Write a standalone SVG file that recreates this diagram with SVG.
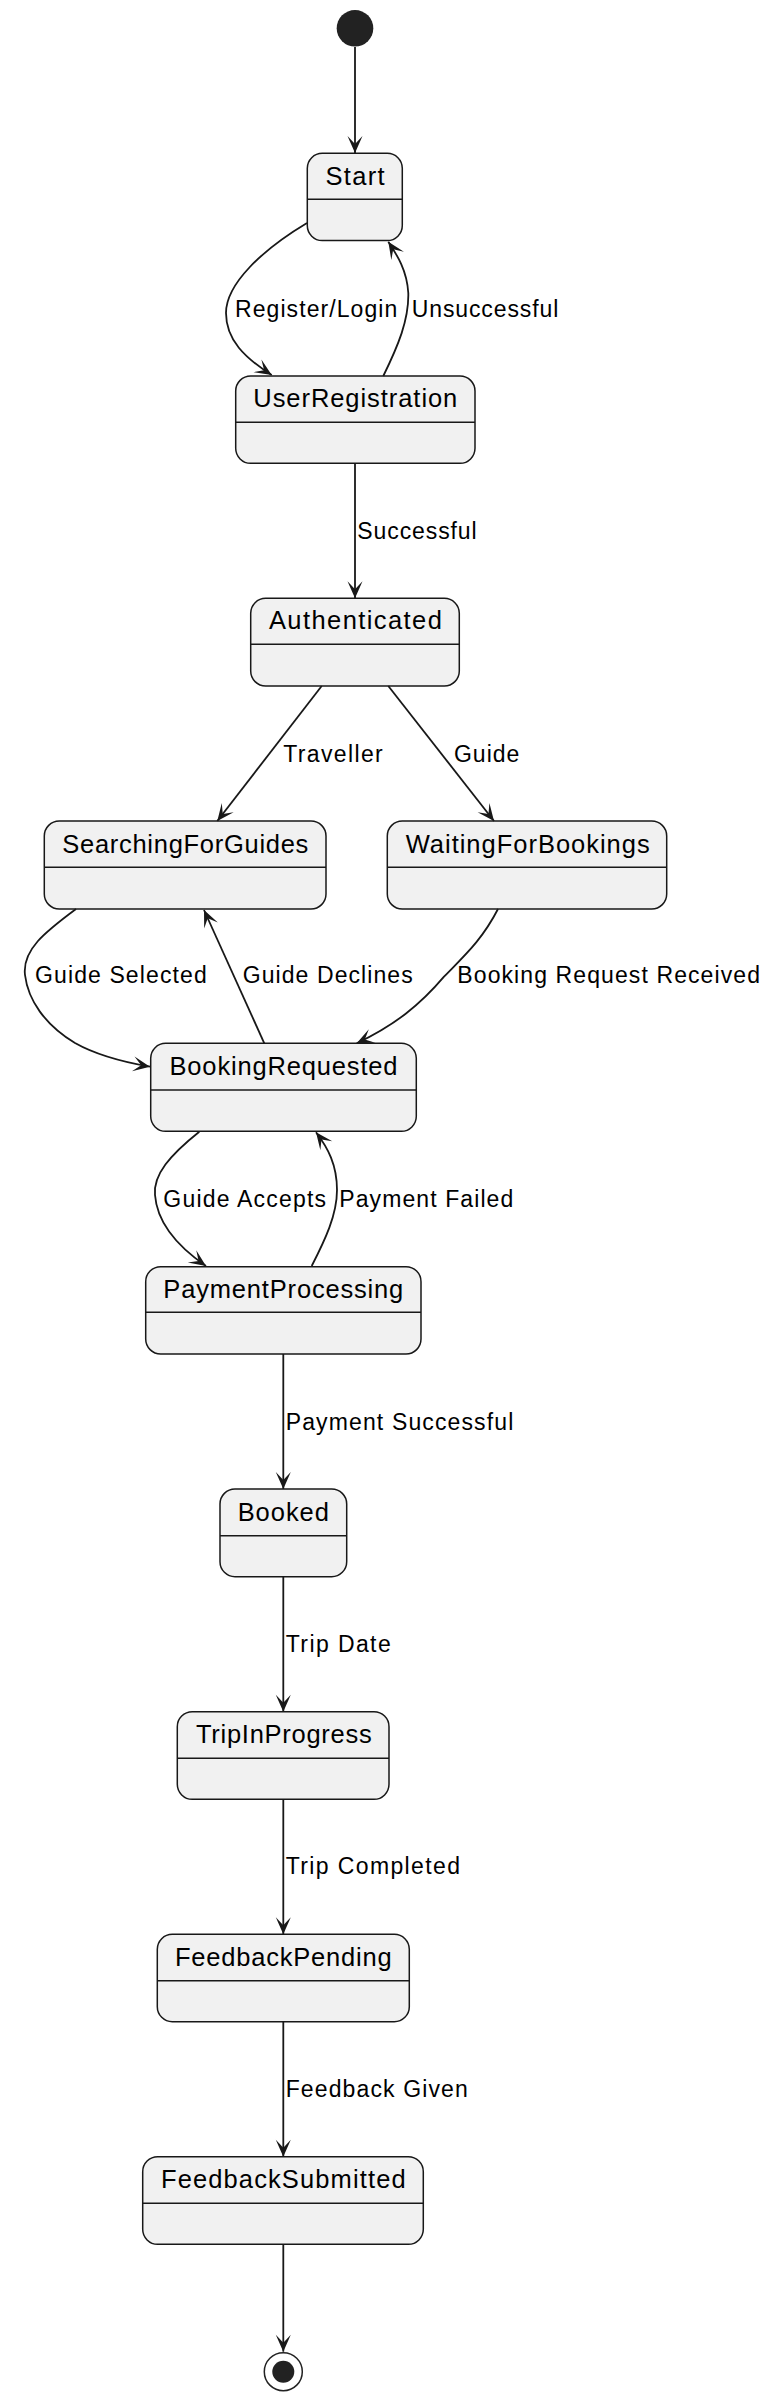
<svg xmlns="http://www.w3.org/2000/svg" width="774" height="2400" viewBox="0 0 774 2400">
<style>
.st rect.b{fill:#F1F1F1;stroke:#181818;stroke-width:1.5}
.st line{stroke:#181818;stroke-width:1.5}
.st text{font-family:"Liberation Sans",Arial,sans-serif;font-size:25.5px;fill:#000;text-anchor:middle}
.lbl{font-family:"Liberation Sans",Arial,sans-serif;font-size:23px;fill:#000}
#connectors path{fill:none;stroke:#181818;stroke-width:1.8;marker-end:url(#ah)}
</style>
<defs>
<marker id="ah" viewBox="-18 -9 20 18" refX="0" refY="0" markerWidth="20" markerHeight="18" orient="auto" markerUnits="userSpaceOnUse">
<path d="M0,0 L-17,-7.5 L-9,0 L-17,7.5 Z" fill="#181818"/>
</marker>
</defs>
<rect width="774" height="2400" fill="#FFFFFF"/>
<g id="initial"><circle cx="355" cy="28.3" r="18.3" fill="#222222"/></g>
<g id="final"><circle cx="283.3" cy="2371.7" r="19" fill="none" stroke="#222222" stroke-width="1.5"/><circle cx="283.3" cy="2371.7" r="11" fill="#222222"/></g>

<g id="Start" class="st"><rect class="b" x="307.3" y="153.3" width="95" height="87.3" rx="15"/><line x1="307.3" y1="199.3" x2="402.3" y2="199.3"/><text x="355" y="185" textLength="59" lengthAdjust="spacing">Start</text></g>
<g id="UserRegistration" class="st"><rect class="b" x="235.7" y="376" width="239.3" height="87.3" rx="15"/><line x1="235.7" y1="422.3" x2="475" y2="422.3"/><text x="355.3" y="407.3" textLength="204" lengthAdjust="spacing">UserRegistration</text></g>
<g id="Authenticated" class="st"><rect class="b" x="250.7" y="598.3" width="208.6" height="87.7" rx="15"/><line x1="250.7" y1="644.3" x2="459.3" y2="644.3"/><text x="355.4" y="629" textLength="173" lengthAdjust="spacing">Authenticated</text></g>
<g id="SearchingForGuides" class="st"><rect class="b" x="44.3" y="821" width="281.7" height="88" rx="15"/><line x1="44.3" y1="867.3" x2="326" y2="867.3"/><text x="185.3" y="852.7" textLength="246" lengthAdjust="spacing">SearchingForGuides</text></g>
<g id="WaitingForBookings" class="st"><rect class="b" x="387.3" y="821" width="279.4" height="88" rx="15"/><line x1="387.3" y1="867.3" x2="666.7" y2="867.3"/><text x="527.7" y="852.7" textLength="244" lengthAdjust="spacing">WaitingForBookings</text></g>
<g id="BookingRequested" class="st"><rect class="b" x="150.7" y="1043.3" width="265.6" height="88" rx="15"/><line x1="150.7" y1="1090" x2="416.3" y2="1090"/><text x="283.5" y="1075" textLength="228" lengthAdjust="spacing">BookingRequested</text></g>
<g id="PaymentProcessing" class="st"><rect class="b" x="145.7" y="1266.7" width="275.3" height="87.3" rx="15"/><line x1="145.7" y1="1312.3" x2="421" y2="1312.3"/><text x="283.3" y="1298.3" textLength="240" lengthAdjust="spacing">PaymentProcessing</text></g>
<g id="Booked" class="st"><rect class="b" x="220" y="1489" width="126.7" height="87.7" rx="15"/><line x1="220" y1="1535.7" x2="346.7" y2="1535.7"/><text x="283.3" y="1521" textLength="91.3" lengthAdjust="spacing">Booked</text></g>
<g id="TripInProgress" class="st"><rect class="b" x="177.3" y="1711.7" width="211.7" height="87.6" rx="15"/><line x1="177.3" y1="1758.3" x2="389" y2="1758.3"/><text x="283.8" y="1743.3" textLength="175.7" lengthAdjust="spacing">TripInProgress</text></g>
<g id="FeedbackPending" class="st"><rect class="b" x="157.3" y="1934.3" width="252" height="87.4" rx="15"/><line x1="157.3" y1="1980.7" x2="409.3" y2="1980.7"/><text x="283.3" y="1966" textLength="216.7" lengthAdjust="spacing">FeedbackPending</text></g>
<g id="FeedbackSubmitted" class="st"><rect class="b" x="142.7" y="2156.7" width="280.6" height="87.6" rx="15"/><line x1="142.7" y1="2203.3" x2="423.3" y2="2203.3"/><text x="283.3" y="2188.3" textLength="244.7" lengthAdjust="spacing">FeedbackSubmitted</text></g>

<g id="connectors">
<path d="M355,47 L355,153"/>
<path d="M307,223 C262,250 226,284 226,313 C226,340 245,358 271.7,375"/>
<path d="M383.3,376 C398,346 409,320 408.3,293 C407,270 397,255 388.3,241.7"/>
<path d="M355,463.3 L355,598.3"/>
<path d="M321.7,686 L217.3,821"/>
<path d="M388.3,686 L494,821"/>
<path d="M76,909 C45,932 22,950 25,975 C28,1000 45,1025 75,1043 C98,1056 123,1062 150,1066.7"/>
<path d="M264.3,1043.3 L204,910"/>
<path d="M498,909 C482,940 465,955 444,976.7 C420,1005 395,1025 356.7,1043.3"/>
<path d="M199.3,1131.7 C170,1155 153,1175 155,1195 C157,1222 177,1246 206,1266"/>
<path d="M311.7,1266 C325,1240 337,1215 337,1190 C337,1165 328,1148 316,1132.3"/>
<path d="M283.3,1354 L283.3,1489"/>
<path d="M283.3,1576.7 L283.3,1711.7"/>
<path d="M283.3,1799.3 L283.3,1934.3"/>
<path d="M283.3,2021.7 L283.3,2156.7"/>
<path d="M283.3,2244.3 L283.3,2351.7"/>
</g>

<g id="labels">
<text class="lbl" x="235" y="316.7" textLength="162.3" lengthAdjust="spacing">Register/Login</text>
<text class="lbl" x="411.7" y="316.7" textLength="146.6" lengthAdjust="spacing">Unsuccessful</text>
<text class="lbl" x="357.3" y="539" textLength="119.4" lengthAdjust="spacing">Successful</text>
<text class="lbl" x="283.3" y="761.7" textLength="99.4" lengthAdjust="spacing">Traveller</text>
<text class="lbl" x="454" y="761.7" textLength="65.3" lengthAdjust="spacing">Guide</text>
<text class="lbl" x="35" y="983.3" textLength="171.7" lengthAdjust="spacing">Guide Selected</text>
<text class="lbl" x="242.7" y="983.3" textLength="170" lengthAdjust="spacing">Guide Declines</text>
<text class="lbl" x="457.3" y="983.3" textLength="302.7" lengthAdjust="spacing">Booking Request Received</text>
<text class="lbl" x="163.3" y="1206.7" textLength="162.7" lengthAdjust="spacing">Guide Accepts</text>
<text class="lbl" x="339.3" y="1206.7" textLength="174" lengthAdjust="spacing">Payment Failed</text>
<text class="lbl" x="285.7" y="1430" textLength="227.6" lengthAdjust="spacing">Payment Successful</text>
<text class="lbl" x="285.7" y="1651.7" textLength="105" lengthAdjust="spacing">Trip Date</text>
<text class="lbl" x="285.7" y="1874" textLength="174.3" lengthAdjust="spacing">Trip Completed</text>
<text class="lbl" x="285.7" y="2096.7" textLength="182" lengthAdjust="spacing">Feedback Given</text>
</g>
</svg>
